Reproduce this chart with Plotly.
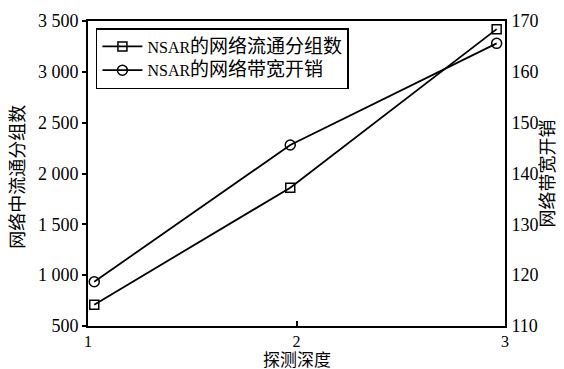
import plotly.graph_objects as go

# Probe depth positions and the two measured series
depth = [1.03, 1.97, 2.96]
packets = [710, 1860, 3420]          # packets in flight (left axis)
bandwidth = [118.7, 145.6, 165.6]    # bandwidth overhead (right axis)

left_ticks = [500, 1000, 1500, 2000, 2500, 3000, 3500]
left_labels = ["500", "1 000", "1 500", "2 000", "2 500", "3 000", "3 500"]
right_ticks = [110, 120, 130, 140, 150, 160, 170]
x_ticks = [1, 2, 3]

name_packets = "NSAR<span style='font-size:19px'>的网络流通分组数</span>"
name_bandwidth = "NSAR<span style='font-size:19px'>的网络带宽开销</span>"

FONT = "Liberation Serif, Times New Roman, Noto Sans CJK SC, serif"

fig = go.Figure()
fig.add_trace(go.Scatter(
    x=depth, y=packets, name=name_packets, mode="lines+markers",
    line=dict(color="black", width=1.8),
    marker=dict(symbol="square-open", size=9, color="black", line=dict(width=1.5)),
))
fig.add_trace(go.Scatter(
    x=depth, y=bandwidth, name=name_bandwidth, mode="lines+markers", yaxis="y2",
    line=dict(color="black", width=1.8),
    marker=dict(symbol="circle-open", size=10, color="black", line=dict(width=1.5)),
))

axis_common = dict(showgrid=False, zeroline=False, showline=True,
                   linecolor="black", linewidth=1.8, automargin=False)

fig.update_layout(
    width=564, height=369,
    margin=dict(l=88, r=59, t=21, b=43),
    paper_bgcolor="white", plot_bgcolor="white",
    font=dict(family=FONT, size=18, color="black"),
    showlegend=True,
    legend=dict(
        x=0.019, y=0.977, xanchor="left", yanchor="top",
        bgcolor="white", bordercolor="black", borderwidth=1.5,
        font=dict(size=16), itemwidth=40, tracegroupgap=0,
    ),
    xaxis=dict(
        **axis_common, mirror=True, range=[1, 3], tickvals=x_ticks,
        ticks="inside", ticklen=5, tickwidth=1.5, tickcolor="black",
        tickfont=dict(size=16),
    ),
    yaxis=dict(
        **axis_common, range=[500, 3500], tickvals=left_ticks, ticktext=left_labels,
        ticks="outside", ticklen=4, tickwidth=1.5, tickcolor="black",
    ),
    yaxis2=dict(
        **axis_common, overlaying="y", side="right", range=[110, 170],
        tickvals=right_ticks, ticks="", ticklabelstandoff=1,
    ),
)

# Axis titles
title_font = dict(family=FONT, size=17, color="black")
fig.add_annotation(text="探测深度", xref="paper", yref="paper", x=0.5, y=-0.1115,
                   xanchor="center", yanchor="middle", showarrow=False, font=title_font,
                   borderpad=0)
fig.add_annotation(text="网络中流通分组数", xref="paper", yref="paper", x=-0.170, y=0.49,
                   xanchor="center", yanchor="middle", textangle=-90, showarrow=False,
                   font=dict(family=FONT, size=18, color="black"))
fig.add_annotation(text="网络带宽开销", xref="paper", yref="paper", x=1.103, y=0.5,
                   xanchor="center", yanchor="middle", textangle=-90, showarrow=False,
                   font=dict(family=FONT, size=18, color="black"))

fig.write_html("out.html")
